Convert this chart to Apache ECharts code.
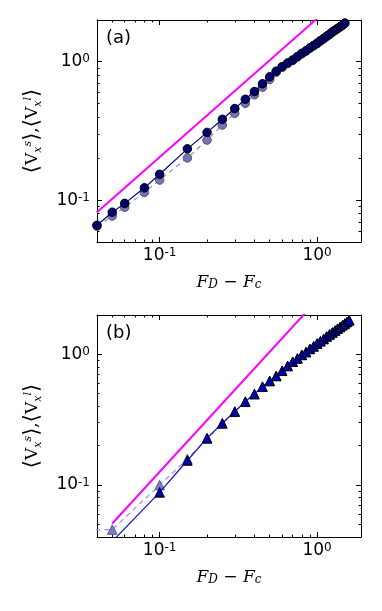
<!DOCTYPE html>
<html>
<head>
<meta charset="utf-8">
<script src="https://cdn.jsdelivr.net/npm/echarts@6/dist/echarts.min.js"></script>
<style>
  html, body { margin: 0; padding: 0; background: #fff; }
  #chart { width: 382px; height: 611px; }
</style>
</head>
<body>
<div id="chart"></div>
<script>
// panel (a): circles
const xA = [0.04, 0.05, 0.06, 0.08, 0.1, 0.15, 0.2, 0.25, 0.3, 0.35, 0.4, 0.45, 0.5, 0.55, 0.6, 0.65, 0.7,
  0.75, 0.8, 0.85, 0.9, 0.95, 1.0, 1.05, 1.1, 1.15, 1.2, 1.25, 1.3, 1.35, 1.4, 1.45, 1.5]
const vsA = [0.066, 0.082, 0.095, 0.123, 0.154, 0.235, 0.309, 0.384, 0.459, 0.536, 0.609, 0.693, 0.778, 0.855, 0.922, 0.98, 1.03,
  1.09, 1.15, 1.20, 1.26, 1.31, 1.36, 1.42, 1.47, 1.53, 1.58, 1.64, 1.69, 1.74, 1.79, 1.84, 1.90]
const vlA = [0.065, 0.077, 0.089, 0.114, 0.140, 0.202, 0.272, 0.349, 0.424, 0.501, 0.577, 0.655, 0.745, 0.84, 0.91, 0.97, 1.02,
  1.08, 1.14, 1.19, 1.25, 1.30, 1.35, 1.41, 1.46, 1.52, 1.57, 1.63, 1.68, 1.73, 1.78, 1.83, 1.89]
const fitXA = [0.04, 1.0]
const fitYA = [0.082, 2.05]

// panel (b): triangles
const xB = [0.05, 0.1, 0.15, 0.2, 0.25, 0.3, 0.35, 0.4, 0.45, 0.5, 0.55, 0.6, 0.65, 0.7,
  0.75, 0.8, 0.85, 0.9, 0.95, 1.0, 1.05, 1.1, 1.15, 1.2, 1.25, 1.3, 1.35, 1.4, 1.45, 1.5, 1.55, 1.6]
const vsB = [0.037, 0.0878, 0.154, 0.2285, 0.297, 0.365, 0.435, 0.497, 0.566, 0.626, 0.684, 0.750, 0.815, 0.879,
  0.93, 0.99, 1.04, 1.10, 1.15, 1.21, 1.26, 1.31, 1.37, 1.42, 1.47, 1.52, 1.57, 1.62, 1.67, 1.72, 1.77, 1.82]
const xBl = [0.03, 0.05, 0.1, 0.15, 0.2, 0.25, 0.3, 0.35, 0.4, 0.45, 0.5, 0.55, 0.6, 0.65, 0.7,
  0.75, 0.8, 0.85, 0.9, 0.95, 1.0, 1.05, 1.1, 1.15, 1.2, 1.25, 1.3, 1.35, 1.4, 1.45, 1.5, 1.55, 1.6]
const vlB = [0.0456, 0.0456, 0.100, 0.158, 0.226, 0.295, 0.363, 0.433, 0.495, 0.564, 0.624, 0.682, 0.748, 0.813, 0.877,
  0.93, 0.99, 1.04, 1.10, 1.15, 1.21, 1.26, 1.31, 1.37, 1.42, 1.47, 1.52, 1.57, 1.62, 1.67, 1.72, 1.77, 1.82]
const fitXB = [0.05, 1.0]
const fitYB = [0.0507, 2.6]

// ticks
const majorTicks = [0.1, 1]
const minorTicks = [0.05, 0.06, 0.07, 0.08, 0.09, 0.2, 0.3, 0.4, 0.5, 0.6, 0.7, 0.8, 0.9, 2]
const xRange = [0.04, 1.9]
const yRangeA = [0.05, 2]
const yRangeB = [0.04, 2]

const pairs = (xs, ys) => xs.map((x, i) => [x, ys[i]])

const tickRich = {
  b: { fontFamily: 'DejaVu Sans', fontSize: 17, color: '#000', lineHeight: 17, verticalAlign: 'bottom' },
  s: { fontFamily: 'DejaVu Sans', fontSize: 12, color: '#000', lineHeight: 12, padding: [0, 0, 7, 0], verticalAlign: 'top' }
}
const tickFmt = v => '{b|10}{s|' + Math.round(Math.log10(v)) + '}'

const mathRich = {
  i: { fontFamily: 'DejaVu Serif', fontStyle: 'italic', fontSize: 17, color: '#000', lineHeight: 17, verticalAlign: 'top' },
  r: { fontFamily: 'DejaVu Serif', fontSize: 17, color: '#000', lineHeight: 17, verticalAlign: 'top' },
  sub: { fontFamily: 'DejaVu Serif', fontStyle: 'italic', fontSize: 12, color: '#000', lineHeight: 12, padding: [8, 0, 0, 0], verticalAlign: 'bottom' }
}
const yRich = {
  br: { fontFamily: 'DejaVu Sans', fontSize: 21, color: '#000', lineHeight: 24, verticalAlign: 'middle' },
  r: { fontFamily: 'DejaVu Serif', fontSize: 17, color: '#000', lineHeight: 17, verticalAlign: 'middle' },
  sub: { fontFamily: 'DejaVu Serif', fontStyle: 'italic', fontSize: 11, color: '#000', lineHeight: 11, padding: [10, 0, 0, 0], verticalAlign: 'middle' },
  sup: { fontFamily: 'DejaVu Serif', fontStyle: 'italic', fontSize: 11, color: '#000', lineHeight: 11, padding: [0, 0, 10, 0], verticalAlign: 'middle' }
}

function xAxes(g) {
  const base = { type: 'log', gridIndex: g, min: xRange[0], max: xRange[1], splitLine: { show: false } }
  return [
    Object.assign({}, base, {
      position: 'bottom',
      name: '{i|F}{sub|D}{r| − }{i|F}{sub|c}',
      nameLocation: 'middle', nameGap: 32,
      nameTextStyle: { rich: mathRich },
      axisLine: { show: true, onZero: false, lineStyle: { color: '#000', width: 1 } },
      axisTick: { show: true, inside: true, length: 5, customValues: majorTicks, lineStyle: { color: '#000' } },
      axisLabel: { show: true, margin: 5, customValues: majorTicks, formatter: tickFmt, rich: tickRich }
    }),
    Object.assign({}, base, {
      position: 'bottom',
      axisLine: { show: false },
      axisTick: { show: true, inside: true, length: 2.5, customValues: minorTicks, lineStyle: { color: '#000' } },
      axisLabel: { show: false }
    }),
    Object.assign({}, base, {
      position: 'top',
      axisLine: { show: true, onZero: false, lineStyle: { color: '#000', width: 1 } },
      axisTick: { show: true, inside: true, length: 5, customValues: majorTicks, lineStyle: { color: '#000' } },
      axisLabel: { show: false }
    }),
    Object.assign({}, base, {
      position: 'top',
      axisLine: { show: false },
      axisTick: { show: true, inside: true, length: 2.5, customValues: minorTicks, lineStyle: { color: '#000' } },
      axisLabel: { show: false }
    })
  ]
}

function yAxes(g, range) {
  const base = { type: 'log', gridIndex: g, min: range[0], max: range[1], splitLine: { show: false } }
  return [
    Object.assign({}, base, {
      position: 'left',
      name: '{br|⟨}{r|V}{sub|x}{sup|s}{br|⟩}{r|,}{br|⟨}{r|V}{sub|x}{sup|l}{br|⟩}',
      nameLocation: 'middle', nameGap: 52, nameRotate: 90,
      nameTextStyle: { rich: yRich },
      axisLine: { show: true, onZero: false, lineStyle: { color: '#000', width: 1 } },
      axisTick: { show: true, inside: true, length: 5, customValues: majorTicks, lineStyle: { color: '#000' } },
      axisLabel: { show: true, margin: 7, customValues: majorTicks, formatter: tickFmt, rich: tickRich }
    }),
    Object.assign({}, base, {
      position: 'left',
      axisLine: { show: false },
      axisTick: { show: true, inside: true, length: 2.5, customValues: minorTicks, lineStyle: { color: '#000' } },
      axisLabel: { show: false }
    }),
    Object.assign({}, base, {
      position: 'right',
      axisLine: { show: true, onZero: false, lineStyle: { color: '#000', width: 1 } },
      axisTick: { show: true, inside: true, length: 5, customValues: majorTicks, lineStyle: { color: '#000' } },
      axisLabel: { show: false }
    }),
    Object.assign({}, base, {
      position: 'right',
      axisLine: { show: false },
      axisTick: { show: true, inside: true, length: 2.5, customValues: minorTicks, lineStyle: { color: '#000' } },
      axisLabel: { show: false }
    })
  ]
}

const chart = echarts.init(document.getElementById('chart'))
chart.setOption({
  animation: false,
  backgroundColor: '#fff',
  grid: [
    { left: 97, top: 20, width: 264, height: 222, containLabel: false, outerBoundsMode: 'none' },
    { left: 97, top: 315, width: 264, height: 222, containLabel: false, outerBoundsMode: 'none' }
  ],
  xAxis: xAxes(0).concat(xAxes(1)),
  yAxis: yAxes(0, yRangeA).concat(yAxes(1, yRangeB)),
  graphic: [
    { type: 'text', left: 106, top: 29, style: { text: '(a)', fontFamily: 'DejaVu Sans', fontSize: 18, fill: '#000' } },
    { type: 'text', left: 106, top: 324, style: { text: '(b)', fontFamily: 'DejaVu Sans', fontSize: 18, fill: '#000' } }
  ],
  series: [
    {
      type: 'line', xAxisIndex: 0, yAxisIndex: 0, data: pairs(fitXA, fitYA),
      showSymbol: false, lineStyle: { color: '#ff00ff', width: 2 }, z: 2
    },
    {
      type: 'line', xAxisIndex: 0, yAxisIndex: 0, data: pairs(xA, vlA),
      symbol: 'circle', symbolSize: 8.5,
      itemStyle: { color: '#7474b4', borderColor: '#55557a', borderWidth: 1 },
      lineStyle: { color: '#8c8cc8', width: 1.2, type: [5, 4] }, z: 3
    },
    {
      type: 'line', xAxisIndex: 0, yAxisIndex: 0, data: pairs(xA, vsA),
      symbol: 'circle', symbolSize: 8.5,
      itemStyle: { color: '#00006e', borderColor: '#000', borderWidth: 1 },
      lineStyle: { color: '#000080', width: 1.2 }, z: 4
    },
    {
      type: 'line', xAxisIndex: 4, yAxisIndex: 4, data: pairs(fitXB, fitYB),
      showSymbol: false, lineStyle: { color: '#ff00ff', width: 2 }, z: 2
    },
    {
      type: 'line', xAxisIndex: 4, yAxisIndex: 4, data: pairs(xBl, vlB),
      symbol: 'triangle', symbolSize: 9.5,
      itemStyle: { color: '#7b7bd0', borderColor: '#5a5a88', borderWidth: 1 },
      lineStyle: { color: '#9090ee', width: 1.2, type: [5, 4] }, z: 3
    },
    {
      type: 'line', xAxisIndex: 4, yAxisIndex: 4, data: pairs(xB, vsB),
      symbol: 'triangle', symbolSize: 9.5,
      itemStyle: { color: '#0000b8', borderColor: '#000', borderWidth: 1 },
      lineStyle: { color: '#1010d8', width: 1.2 }, z: 4
    }
  ]
})
</script>
</body>
</html>
